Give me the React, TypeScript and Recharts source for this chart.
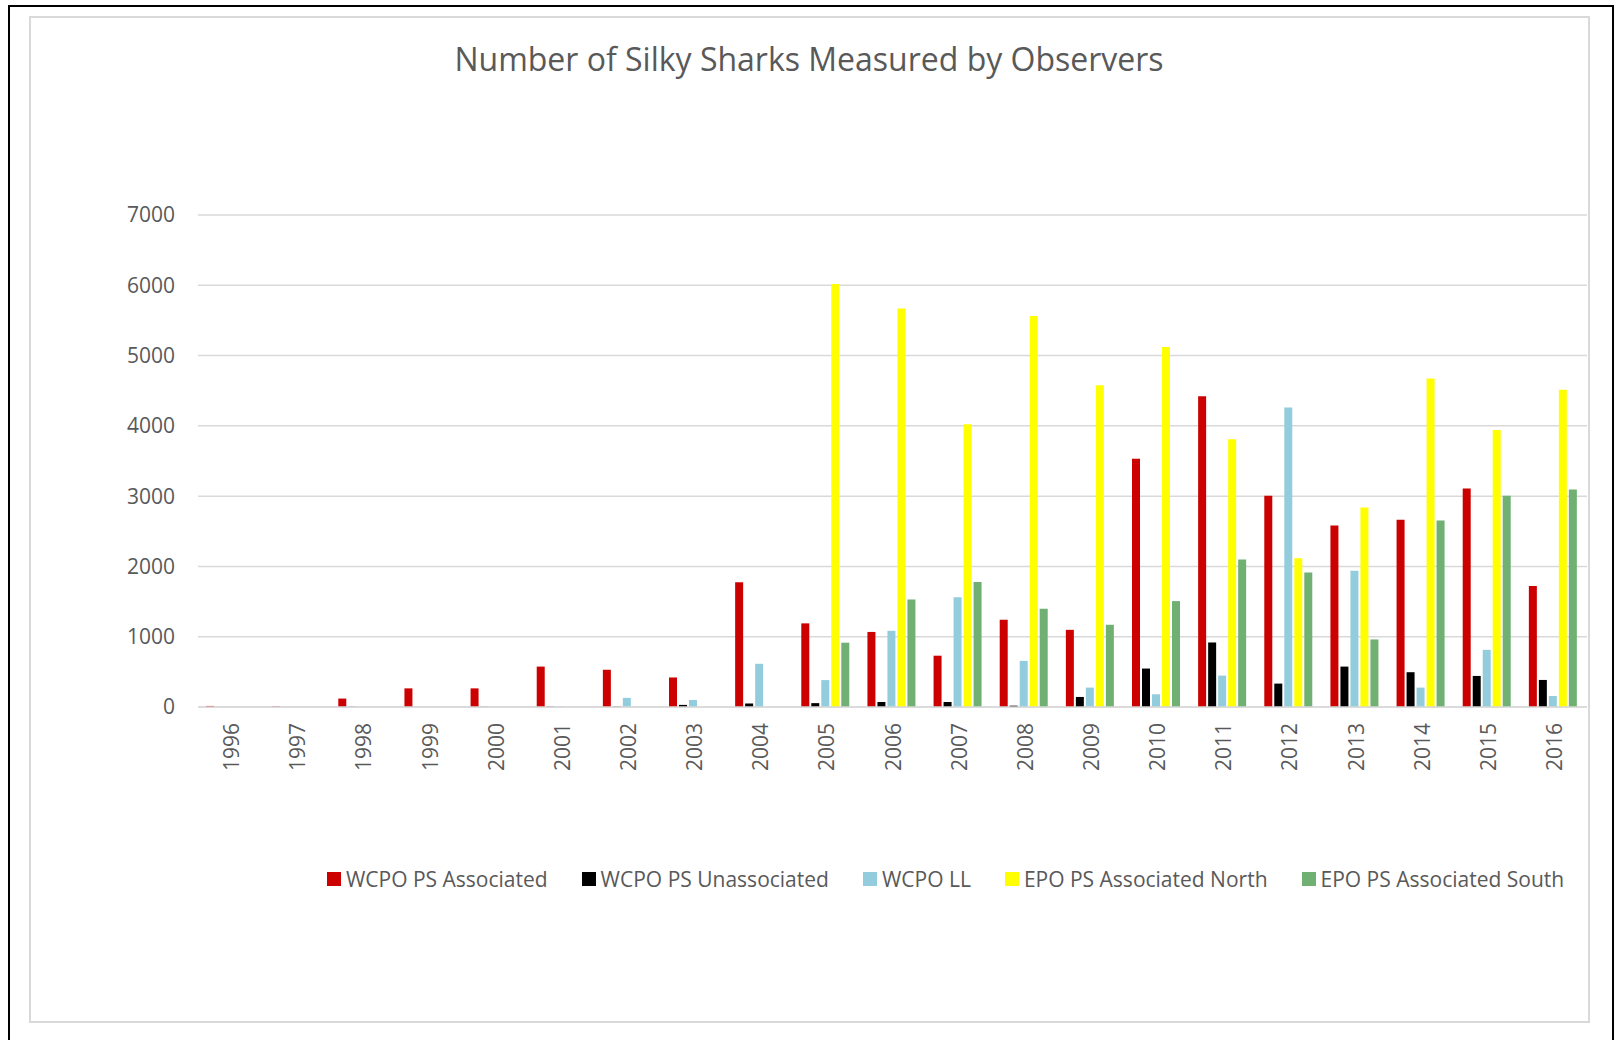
import { BarChart, Bar, XAxis, YAxis, CartesianGrid, Legend } from "recharts"

const years = ["1996", "1997", "1998", "1999", "2000", "2001", "2002", "2003", "2004", "2005", "2006",
    "2007", "2008", "2009", "2010", "2011", "2012", "2013", "2014", "2015", "2016"]

const wcpoPsAssociated = [15, 8, 120, 265, 265, 575, 530, 420, 1775, 1190, 1068, 730, 1240, 1098, 3533, 4422, 3005, 2582, 2663, 3110, 1721]
const wcpoPsUnassociated = [0, 0, 3, 0, 3, 5, 5, 30, 50, 55, 71, 71, 19, 143, 547, 918, 333, 575, 495, 442, 385]
const wcpoLL = [0, 0, 0, 0, 0, 8, 130, 100, 615, 383, 1084, 1560, 656, 276, 181, 447, 4261, 1940, 276, 813, 157]
const epoPsAssociatedNorth = [0, 0, 0, 0, 0, 0, 0, 0, 0, 6020, 5668, 4023, 5563, 4579, 5121, 3809, 2116, 2839, 4674, 3942, 4513]
const epoPsAssociatedSouth = [0, 0, 0, 0, 0, 0, 0, 0, 0, 915, 1531, 1778, 1398, 1170, 1507, 2097, 1912, 961, 2653, 3005, 3096]

const yTicks = [0, 1000, 2000, 3000, 4000, 5000, 6000, 7000]

const series = [
    { key: "wcpoAssoc", name: "WCPO PS Associated", color: "#CC0000" },
    { key: "wcpoUnassoc", name: "WCPO PS Unassociated", color: "#000000" },
    { key: "wcpoLL", name: "WCPO LL", color: "#93CDDD" },
    { key: "epoNorth", name: "EPO PS Associated North", color: "#FFFF00" },
    { key: "epoSouth", name: "EPO PS Associated South", color: "#70B073" },
]

const data = years.map((year, i) => ({
    year,
    wcpoAssoc: wcpoPsAssociated[i],
    wcpoUnassoc: wcpoPsUnassociated[i],
    wcpoLL: wcpoLL[i],
    epoNorth: epoPsAssociatedNorth[i],
    epoSouth: epoPsAssociatedSouth[i],
}))

const textColor = "#595959"
const gridColor = "#d9d9d9"

// nhãn năm xoay dọc
const YearTick = ({ x, y, payload }: any) => (
    <g transform={`translate(${x},${y})`}>
        <text transform="rotate(-90)" x={0} y={0} textAnchor="end" dominantBaseline="central"
            fill={textColor} fontSize={21}>
            {payload.value}
        </text>
    </g>
)

const LegendContent = () => (
    <div style={{ display: "flex", justifyContent: "center", alignItems: "center", height: 30, gap: 34 }}>
        {series.map(s => (
            <div key={s.key} style={{ display: "flex", alignItems: "center", whiteSpace: "nowrap" }}>
                <span style={{ width: 14, height: 14, background: s.color, marginRight: 5, display: "inline-block" }} />
                <span style={{ fontSize: 21, color: textColor }}>{s.name}</span>
            </div>
        ))}
    </div>
)

export default function App() {
    return (
        <div style={{
            position: "fixed", left: 0, top: 0, width: 1619, height: 1040, overflow: "hidden",
            fontFamily: "'Open Sans', sans-serif", background: "#fff"
        }}>
            {/* khung ngoài màu đen */}
            <div style={{
                position: "absolute", left: 8, top: 5, width: 1606, height: 1100,
                border: "2px solid #000", boxSizing: "border-box"
            }} />
            <div style={{
                position: "absolute", left: 29, top: 16, width: 1561, height: 1007,
                border: `2px solid ${gridColor}`, boxSizing: "border-box"
            }} />
            <div style={{
                position: "absolute", left: 10, top: 38, width: 1598, height: 42, lineHeight: "42px",
                textAlign: "center", fontSize: 32, color: textColor
            }}>
                Number of Silky Sharks Measured by Observers
            </div>
            <div style={{ position: "absolute", left: 29, top: 16 }}>
                <BarChart width={1561} height={1007} data={data}
                    margin={{ top: 199, right: 3, left: 109, bottom: 236 }}
                    barCategoryGap={8} barGap={2}>
                    <CartesianGrid vertical={false} stroke={gridColor} strokeWidth={1.5} />
                    <XAxis dataKey="year" interval={0} height={80} tickLine={false} tickSize={0} tickMargin={16}
                        axisLine={{ stroke: gridColor, strokeWidth: 1.5 }} tick={<YearTick />} />
                    <YAxis domain={[0, 7000]} ticks={yTicks} interval={0} width={60} axisLine={false}
                        tickLine={false} tickSize={0} tickMargin={23}
                        tick={{ fill: textColor, fontSize: 21 }} />
                    <Legend layout="horizontal" align="center" verticalAlign="middle"
                        wrapperStyle={{ left: 300, top: 848, width: 1233 }} content={<LegendContent />} />
                    {series.map(s => (
                        <Bar key={s.key} dataKey={s.key} name={s.name} fill={s.color} isAnimationActive={false} />
                    ))}
                </BarChart>
            </div>
        </div>
    )
}
